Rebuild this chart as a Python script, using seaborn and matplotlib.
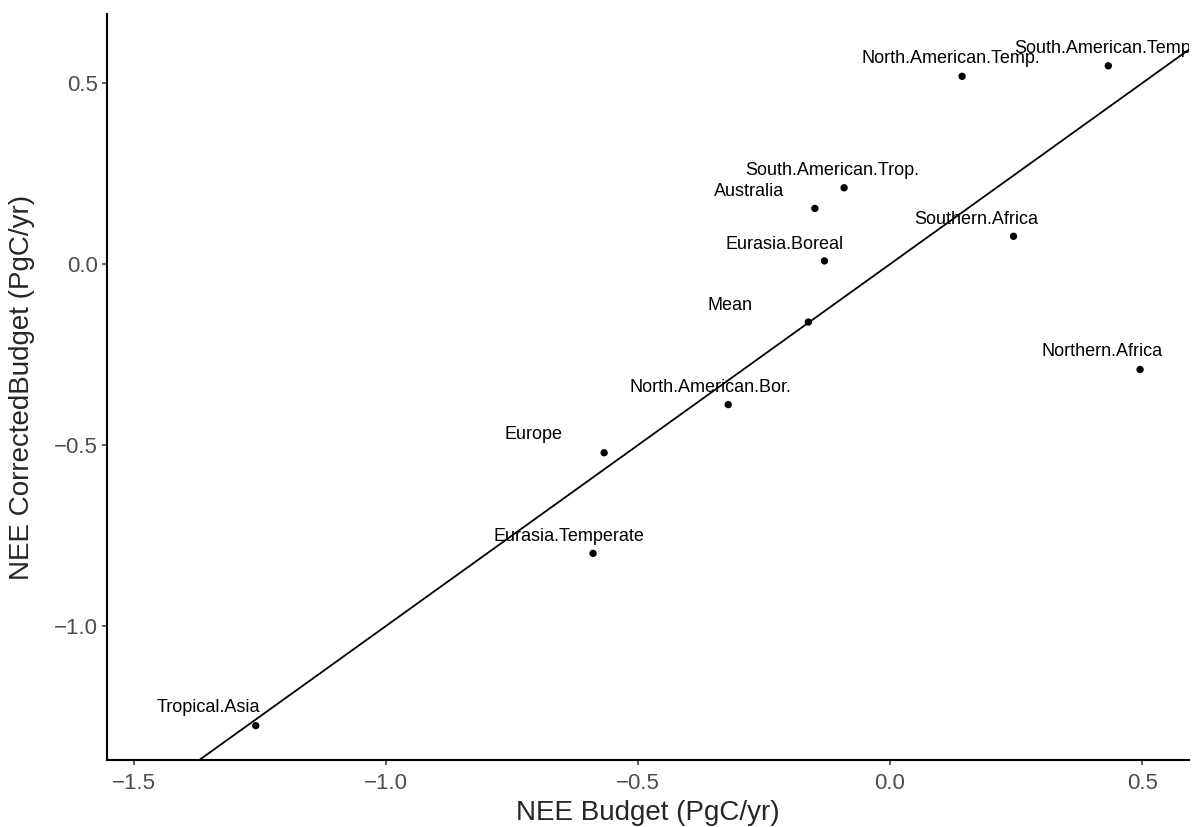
import pandas as pd
import seaborn as sns
import matplotlib.pyplot as plt

regions = ["Tropical.Asia", "Eurasia.Temperate", "Europe", "North.American.Bor.",
           "Mean", "Eurasia.Boreal", "Australia", "South.American.Trop.",
           "Southern.Africa", "Northern.Africa", "North.American.Temp.",
           "South.American.Temp."]
nee_budget = [-1.258, -0.589, -0.567, -0.321, -0.162, -0.130, -0.149, -0.091,
              0.245, 0.496, 0.143, 0.433]
nee_corrected = [-1.275, -0.799, -0.521, -0.388, -0.160, 0.009, 0.154, 0.211,
                 0.077, -0.291, 0.519, 0.548]

x_ticks = [-1.5, -1.0, -0.5, 0.0, 0.5]
y_ticks = [-1.0, -0.5, 0.0, 0.5]

# label placement relative to the point, in pixels (right, down)
label_shift = {
    "Tropical.Asia": (-47, -18),
    "Eurasia.Temperate": (-24, -17),
    "Europe": (-71, -18),
    "North.American.Bor.": (-18, -17),
    "Mean": (-78, -17),
    "Eurasia.Boreal": (-40, -16),
    "Australia": (-66, -17),
    "South.American.Trop.": (-12, -17),
    "Southern.Africa": (-37, -17),
    "Northern.Africa": (-38, -18),
    "North.American.Temp.": (-11, -18),
    "South.American.Temp.": (-3, -17),
}

df = pd.DataFrame({"region": regions, "budget": nee_budget, "corrected": nee_corrected})

sns.set_style("ticks")
plt.rcParams["font.family"] = ["Liberation Sans", "DejaVu Sans"]

fig = plt.figure(figsize=(11.97, 8.27), dpi=100)
ax = fig.add_axes([0.0894, 0.081, 0.9039, 0.902])

ax.axline((0, 0), slope=1, color="black", lw=1.3, zorder=1)
sns.scatterplot(data=df, x="budget", y="corrected", color="black", s=28,
                edgecolor="none", ax=ax, zorder=3)

for name, xv, yv in zip(regions, nee_budget, nee_corrected):
    dx, dy = label_shift[name]
    t = ax.annotate(name, (xv, yv), xytext=(dx * 0.72, -dy * 0.72),
                    textcoords="offset points", ha="center", va="center",
                    fontsize=13, color="black", annotation_clip=False)
    # labels are cut at the panel edge, like the original
    t.set_clip_box(ax.bbox)
    t.set_clip_on(True)

ax.set_xlim(-1.553, 0.593)
ax.set_ylim(-1.370, 0.691)
ax.set_xticks(x_ticks)
ax.set_yticks(y_ticks)
ax.set_xticklabels([f"{v:.1f}".replace("-", "\u2212") for v in x_ticks])
ax.set_yticklabels([f"{v:.1f}".replace("-", "\u2212") for v in y_ticks])

sns.despine(ax=ax)
for side in ["left", "bottom"]:
    ax.spines[side].set_linewidth(1.5)
    ax.spines[side].set_color("black")
ax.tick_params(axis="both", length=3.5, width=1.1, color="#333333",
               labelcolor="#4D4D4D", labelsize=16)
ax.tick_params(axis="x", pad=6)
ax.tick_params(axis="y", pad=3)

ax.set_xlabel("NEE Budget (PgC/yr)", fontsize=20, labelpad=4)
ax.set_ylabel("NEE CorrectedBudget (PgC/yr)", fontsize=20, labelpad=14)

fig.savefig("out.png", dpi=100)
